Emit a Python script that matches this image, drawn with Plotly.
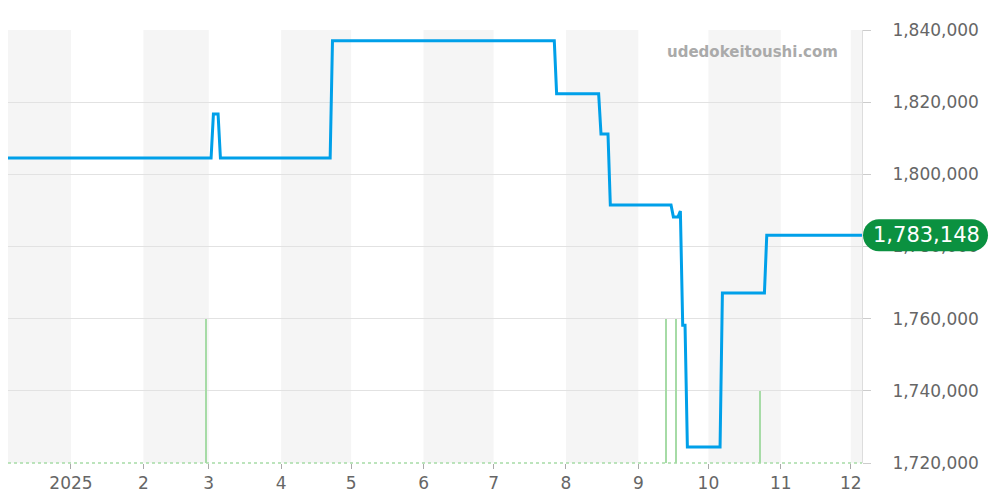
import plotly.graph_objects as go
import pandas as pd

# price history (step-like, daily points)
price_dates = ["2024-12-01", "2025-03-02", "2025-03-03", "2025-03-05", "2025-03-06",
               "2025-04-22", "2025-04-23", "2025-07-27", "2025-07-28", "2025-08-15",
               "2025-08-16", "2025-08-19", "2025-08-20", "2025-09-15", "2025-09-16",
               "2025-09-18", "2025-09-19", "2025-09-20", "2025-09-21", "2025-09-22",
               "2025-10-06", "2025-10-07", "2025-10-25", "2025-10-26", "2025-12-06"]
prices = [1804500, 1804500, 1816700, 1816700, 1804500,
          1804500, 1837000, 1837000, 1822300, 1822300,
          1811200, 1811200, 1791500, 1791500, 1788200,
          1788200, 1789800, 1758200, 1758200, 1724400,
          1724400, 1767100, 1767100, 1783148, 1783148]

# listing volume
vol_dates = ["2025-02-28", "2025-09-13", "2025-09-17", "2025-10-23"]
volumes = [2, 2, 2, 1]

tick_dates = ["2025-01-01", "2025-02-01", "2025-03-01", "2025-04-01", "2025-05-01", "2025-06-01",
              "2025-07-01", "2025-08-01", "2025-09-01", "2025-10-01", "2025-11-01", "2025-12-01"]
tick_labels = ["2025", "2", "3", "4", "5", "6", "7", "8", "9", "10", "11", "12"]

band_months = ["2024-12-01", "2025-02-01", "2025-04-01", "2025-06-01",
               "2025-08-01", "2025-10-01", "2025-12-01"]

last_price = prices[-1]
x_range = ["2024-12-05 00:30", "2025-12-05 19:00"]

FONT = "DejaVu Sans"
BLUE = "#00a0e9"
GREEN_BAR = "#a6dba6"
PLOT_W = 854  # plot area width in px

fig = go.Figure()

fig.add_trace(go.Bar(
    x=vol_dates, y=volumes, yaxis="y2",
    width=0.6 * 86400000, marker_color=GREEN_BAR, marker_line_width=0,
    hoverinfo="skip",
))

fig.add_trace(go.Scatter(
    x=price_dates, y=prices, mode="lines",
    line=dict(color=BLUE, width=3),
))

shapes = []
for m in band_months:
    start = pd.Timestamp(m)
    end = start + pd.offsets.MonthBegin(1)
    shapes.append(dict(type="rect", xref="x", yref="paper",
                       x0=max(start, pd.Timestamp(x_range[0])), x1=min(end, pd.Timestamp(x_range[1])),
                       y0=0, y1=1, fillcolor="#f5f5f5", line_width=0, layer="below"))

# dotted baseline for volume
shapes.append(dict(type="line", xref="paper", yref="paper", x0=0, x1=1, y0=0, y1=0,
                   line=dict(color=GREEN_BAR, width=1.5, dash="dot"), layer="above"))

# rounded label for the latest price
shapes.append(dict(
    type="path", xref="paper", yref="y", xsizemode="pixel", ysizemode="pixel",
    xanchor=1, yanchor=last_price,
    path="M 17,-16 L 110,-16 C 118.8,-16 126,-8.8 126,0 C 126,8.8 118.8,16 110,16 "
         "L 17,16 C 8.2,16 1,8.8 1,0 C 1,-8.8 8.2,-16 17,-16 Z",
    fillcolor="#0b9140", line_width=0, layer="above"))

fig.update_layout(
    width=992, height=492,
    margin=dict(l=0, r=138, t=22, b=37),
    paper_bgcolor="white", plot_bgcolor="white",
    showlegend=False,
    shapes=shapes,
    font=dict(family=FONT, color="#666666", size=17),
    xaxis=dict(
        type="date", range=x_range,
        tickvals=tick_dates, ticktext=tick_labels,
        showgrid=False, zeroline=False,
        ticks="outside", ticklen=5, tickcolor="#aaaaaa",
        tickfont=dict(family=FONT, size=17, color="#666666"),
    ),
    yaxis=dict(
        side="right", range=[1720000, 1840000], dtick=20000,
        tickformat=",", showgrid=True, gridcolor="#e2e2e2", gridwidth=1,
        zeroline=False, showline=True, linecolor="#dddddd", linewidth=1,
        ticks="outside", ticklen=8, tickcolor="#cccccc",
        ticklabelstandoff=18,
        tickfont=dict(family=FONT, size=17, color="#666666"),
    ),
    yaxis2=dict(
        overlaying="y", range=[0, 6], visible=False, showgrid=False,
    ),
    bargap=0,
)

fig.add_annotation(
    xref="paper", yref="y", x=1 + 64 / PLOT_W, y=last_price,
    text=f"{last_price:,}", showarrow=False, xanchor="center", yanchor="middle",
    font=dict(family=FONT, size=21, color="white"),
)

fig.add_annotation(
    xref="paper", yref="paper", x=832 / PLOT_W, y=411 / 433,
    text="udedokeitoushi.com", showarrow=False, xanchor="right", yanchor="middle",
    font=dict(family=FONT, size=15, color="#aaaaaa", weight="bold"),
)

fig.write_html("out.html")
